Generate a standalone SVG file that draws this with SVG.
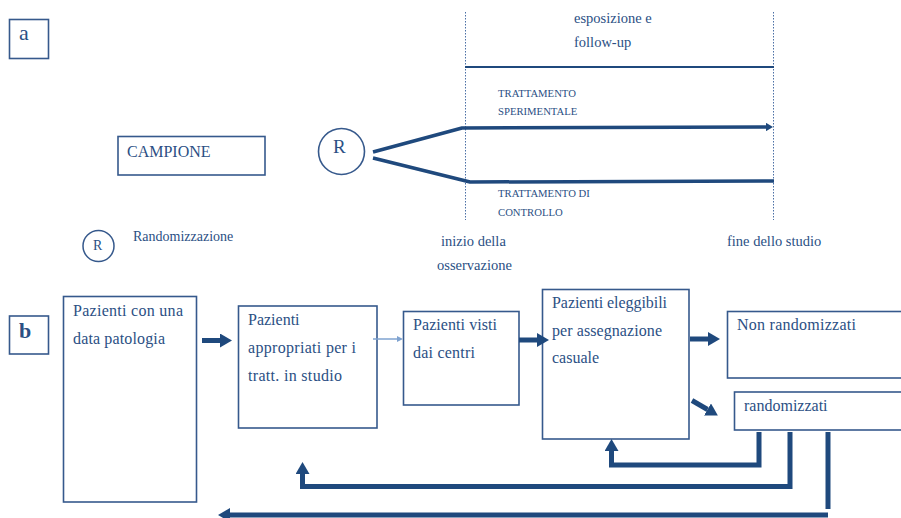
<svg xmlns="http://www.w3.org/2000/svg" width="901" height="518" viewBox="0 0 901 518">
  <style>
    text { fill: #2b4f84; }
    .box { fill: #ffffff; stroke: #36598c; stroke-width: 1.6; }
    .lbl { font-size: 16px; }
    .small { font-size: 10.7px; }
    .mid { font-size: 14.5px; }
    .thick { fill: none; stroke: #1f497d; stroke-width: 5; stroke-linejoin: miter; }
    .branch { fill: none; stroke: #1f497d; stroke-width: 3.5; stroke-linejoin: round; }
    .guide { stroke: #4a6fa5; stroke-width: 1; stroke-dasharray: 1.5 1.5; }
  </style>
  <defs>
    <marker id="headThick" viewBox="0 0 2.4 2.8" refX="0" refY="1.4" markerWidth="2.4" markerHeight="2.8" orient="auto" markerUnits="strokeWidth">
      <path d="M0,0 L2.4,1.4 L0,2.8 z" fill="#1f497d"/>
    </marker>
    <marker id="headBranch" viewBox="0 0 2 2.4" refX="0" refY="1.2" markerWidth="2" markerHeight="2.4" orient="auto" markerUnits="strokeWidth">
      <path d="M0,0 L2,1.2 L0,2.4 z" fill="#1f497d"/>
    </marker>
    <marker id="headThin" viewBox="0 0 4 4" refX="0" refY="2" markerWidth="4" markerHeight="4" orient="auto" markerUnits="strokeWidth">
      <path d="M0,0 L4,2 L0,4 z" fill="#7fa3d0"/>
    </marker>
  </defs>

  <g font-family="'Liberation Serif', 'Times New Roman', serif">
  <!-- Panel a -->
  <g id="label-a">
    <rect class="box" x="9.5" y="19.5" width="39" height="39"/>
    <text x="19" y="40" font-size="22">a</text>
  </g>

  <g id="campione">
    <rect class="box" x="118" y="136.5" width="147" height="38.5"/>
    <text x="127" y="157" font-size="16">CAMPIONE</text>
  </g>

  <g id="randomizzazione">
    <circle cx="341.5" cy="151.5" r="23" fill="#ffffff" stroke="#36598c" stroke-width="1.6"/>
    <text x="333" y="153" font-size="19">R</text>
  </g>

  <g id="legend">
    <circle cx="98.5" cy="246" r="15.5" fill="#ffffff" stroke="#36598c" stroke-width="1.5"/>
    <text x="93" y="249.5" font-size="14">R</text>
    <text x="133" y="241" font-size="14">Randomizzazione</text>
  </g>

  <g id="timeline">
    <line class="guide" x1="465.5" y1="12" x2="465.5" y2="220"/>
    <line class="guide" x1="773.5" y1="12" x2="773.5" y2="220"/>
    <line x1="465" y1="67" x2="774" y2="67" stroke="#1f497d" stroke-width="2"/>
    <text class="mid" x="574" y="23">esposizione e</text>
    <text class="mid" x="574" y="47">follow-up</text>
    <text class="mid" x="441" y="246">inizio della</text>
    <text class="mid" x="437" y="270">osservazione</text>
    <text class="mid" x="727" y="246">fine dello studio</text>
  </g>

  <g id="bracci">
    <path class="branch" d="M373,152 L462,128 L766,127" marker-end="url(#headBranch)"/>
    <path class="branch" d="M373,158 L470,182 L774,181"/>
    <text class="small" x="498" y="97">TRATTAMENTO</text>
    <text class="small" x="498" y="115">SPERIMENTALE</text>
    <text class="small" x="498" y="197">TRATTAMENTO DI</text>
    <text class="small" x="498" y="216">CONTROLLO</text>
  </g>

  <!-- Panel b -->
  <g id="label-b">
    <rect class="box" x="9.5" y="316" width="39" height="38"/>
    <text x="19" y="338" font-size="22" font-weight="bold">b</text>
  </g>

  <g id="pazienti-patologia">
    <rect class="box" x="63.5" y="296.5" width="133" height="205.5"/>
    <text class="lbl" x="73" y="316" textLength="110" lengthAdjust="spacing">Pazienti con una</text>
    <text class="lbl" x="73" y="344" textLength="92" lengthAdjust="spacing">data patologia</text>
  </g>

  <g id="pazienti-appropriati">
    <rect class="box" x="238.5" y="306" width="138.5" height="122"/>
    <text class="lbl" x="248" y="325">Pazienti</text>
    <text class="lbl" x="248" y="353" textLength="108" lengthAdjust="spacing">appropriati per i</text>
    <text class="lbl" x="248" y="381" textLength="94" lengthAdjust="spacing">tratt. in studio</text>
  </g>

  <g id="pazienti-visti">
    <rect class="box" x="403.5" y="311.5" width="115.5" height="93.5"/>
    <text class="lbl" x="413" y="330" textLength="84" lengthAdjust="spacing">Pazienti visti</text>
    <text class="lbl" x="413" y="358" textLength="62" lengthAdjust="spacing">dai centri</text>
  </g>

  <g id="pazienti-eleggibili">
    <rect class="box" x="542.5" y="289.5" width="146.5" height="149.5"/>
    <text class="lbl" x="552" y="308" textLength="115" lengthAdjust="spacing">Pazienti eleggibili</text>
    <text class="lbl" x="552" y="336" textLength="110" lengthAdjust="spacing">per assegnazione</text>
    <text class="lbl" x="552" y="363">casuale</text>
  </g>

  <g id="non-randomizzati">
    <rect class="box" x="727.5" y="311.5" width="180" height="66.5"/>
    <text class="lbl" x="737" y="330" textLength="119" lengthAdjust="spacing">Non randomizzati</text>
  </g>

  <g id="randomizzati">
    <rect class="box" x="734.5" y="392" width="175" height="38"/>
    <text class="lbl" x="744" y="411">randomizzati</text>
  </g>
  </g>

  <g id="connectors">
    <line class="thick" x1="202" y1="340.5" x2="220" y2="340.5" marker-end="url(#headThick)"/>
    <line x1="373" y1="339" x2="397" y2="339" stroke="#7fa3d0" stroke-width="1.5" marker-end="url(#headThin)"/>
    <line class="thick" x1="519" y1="340" x2="537" y2="340" marker-end="url(#headThick)"/>
    <line class="thick" x1="690" y1="339" x2="708" y2="339" marker-end="url(#headThick)"/>
    <line class="thick" x1="692" y1="400.5" x2="707.5" y2="409.5" marker-end="url(#headThick)"/>
    <path class="thick" d="M759,432 V465 H611.5 V451" marker-end="url(#headThick)"/>
    <path class="thick" d="M790,432 V486.5 H302.5 V474" marker-end="url(#headThick)"/>
    <path class="thick" d="M828,432 V509"/>
    <line class="thick" x1="828" y1="515" x2="230" y2="515" marker-end="url(#headThick)"/>
  </g>
</svg>
